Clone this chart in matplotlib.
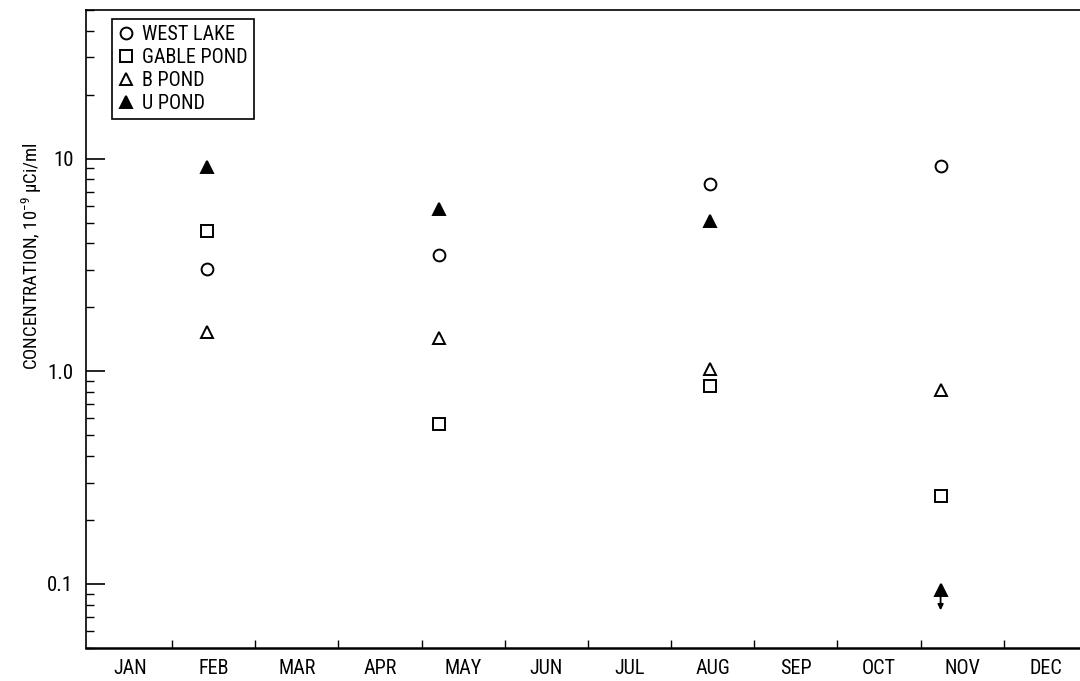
import numpy as np
import matplotlib
matplotlib.use("Agg")
import matplotlib.pyplot as plt
from matplotlib import font_manager
from matplotlib.ticker import FixedLocator, LogLocator, NullFormatter

names = {f.name for f in font_manager.fontManager.ttflist}
narrow = [n for n in ["Roboto Condensed", "Liberation Sans Narrow", "Open Sans Condensed"] if n in names]
plt.rcParams.update({
    "font.family": narrow + ["DejaVu Sans"],
    "font.stretch": "condensed",
    "font.size": 13,
    "mathtext.fontset": "custom",
    "mathtext.rm": narrow[0] if narrow else "DejaVu Sans",
    "mathtext.it": narrow[0] if narrow else "DejaVu Sans",
})

# months on the x axis, sampling times in month units (0 = start of Jan)
months = ["JAN", "FEB", "MAR", "APR", "MAY", "JUN",
          "JUL", "AUG", "SEP", "OCT", "NOV", "DEC"]
sample_time = [1.42, 4.21, 7.47, 10.24]

# concentration, 10^-9 uCi/ml
west_lake = [3.03, 3.54, 7.56, 9.22]
gable_pond = [4.56, 0.565, 0.857, 0.26]
b_pond = [1.53, 1.43, 1.02, 0.82]
u_pond = [9.12, 5.77, 5.08, 0.094]
u_pond_less_than = [False, False, False, True]

fig = plt.figure(figsize=(10.8, 6.81), dpi=100)
ax = fig.add_axes([86 / 1080, 33 / 681, 994 / 1080, 638 / 681])

mk = dict(ls="none", ms=8.5, mec="black", mew=1.4)
h1, = ax.plot(sample_time, west_lake, marker="o", mfc="white", label="WEST LAKE", **mk)
h2, = ax.plot(sample_time, gable_pond, marker="s", mfc="white", label="GABLE POND", **mk)
h3, = ax.plot(sample_time, b_pond, marker="^", mfc="white", label="B POND", **mk)
h4, = ax.plot(sample_time, u_pond, marker="^", mfc="black", label="U POND", **mk)

# "less than" arrows
for t, v, lt in zip(sample_time, u_pond, u_pond_less_than):
    if lt:
        ax.annotate("", xy=(t, v * 0.8), xytext=(t, v * 0.97),
                    arrowprops=dict(arrowstyle="-|>", color="black", lw=1.3,
                                    mutation_scale=8, shrinkA=0, shrinkB=0))

ax.set_yscale("log")
ax.set_ylim(0.05, 50)
ax.set_xlim(-0.034, 11.916)

ax.yaxis.set_major_locator(FixedLocator([0.1, 1.0, 10]))
ax.set_yticklabels(["0.1", "1.0", "10"])
ax.yaxis.set_minor_locator(LogLocator(base=10, subs=np.arange(2, 10)))
ax.yaxis.set_minor_formatter(NullFormatter())
ax.tick_params(axis="y", which="major", direction="in", length=14, width=1.2,
               pad=9, labelsize=15)
ax.tick_params(axis="y", which="minor", direction="in", length=6, width=1.0)

ax.set_xticks(np.arange(len(months)) + 0.5)
ax.set_xticklabels(months)
ax.set_xticks(np.arange(1, len(months)), minor=True)
ax.tick_params(axis="x", which="major", length=0, pad=8, labelsize=14.5)
ax.tick_params(axis="x", which="minor", direction="in", length=6, width=1.0)

ax.spines["right"].set_visible(False)
ax.spines["bottom"].set_linewidth(1.8)
ax.spines["left"].set_linewidth(1.2)
ax.spines["top"].set_linewidth(1.2)

ax.set_ylabel("CONCENTRATION, 10$^{-9}$ \u03bcCi/ml", fontsize=13.5, va="center")
ax.yaxis.set_label_coords(-0.054, 0.615)

leg = ax.legend(handles=[h1, h2, h3, h4], loc="upper left",
                bbox_to_anchor=(0.0262, 0.986), borderaxespad=0,
                fancybox=False, framealpha=1, edgecolor="black",
                fontsize=14.5, handlelength=0.75, handletextpad=0.45,
                borderpad=0.3, labelspacing=0.2)
leg.get_frame().set_linewidth(1.2)

fig.savefig("out.png", dpi=100)
